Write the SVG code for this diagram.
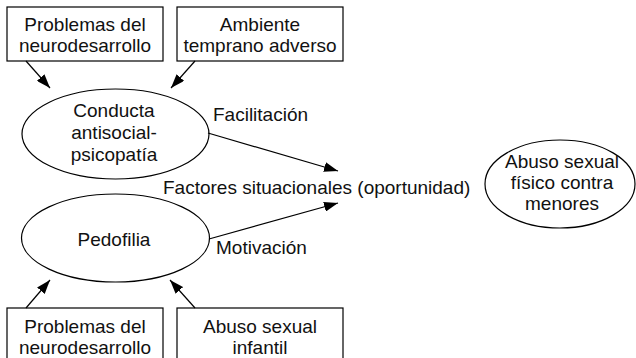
<svg xmlns="http://www.w3.org/2000/svg" width="636" height="358" viewBox="0 0 636 358">
<style>
  rect, ellipse { fill: #fff; stroke: #000; stroke-width: 1.2; }
  text { font-family: "Liberation Sans", Arial, sans-serif; font-size: 19px; fill: #111; text-anchor: middle; }
  .lbl { text-anchor: start; }
  .conn line { stroke: #000; stroke-width: 1.2; marker-end: url(#ah); }
</style>
<defs>
  <marker id="ah" viewBox="0 0 14 10" refX="14" refY="5" markerWidth="14" markerHeight="10" markerUnits="userSpaceOnUse" orient="auto">
    <path d="M0,0 L14,5 L0,10 z" fill="#000"/>
  </marker>
</defs>
<g id="box-neuro-top">
  <rect x="7" y="7" width="156" height="54"/>
  <text x="85" y="31">Problemas del</text>
  <text x="85" y="52">neurodesarrollo</text>
</g>
<g id="box-ambiente">
  <rect x="177" y="7" width="166" height="54"/>
  <text x="260" y="31">Ambiente</text>
  <text x="260" y="52">temprano adverso</text>
</g>
<g id="ell-conducta">
  <ellipse cx="115.5" cy="134" rx="93.5" ry="45"/>
  <text x="114" y="117">Conducta</text>
  <text x="114" y="139">antisocial-</text>
  <text x="114" y="161">psicopatía</text>
</g>
<g id="ell-pedofilia">
  <ellipse cx="115.5" cy="238" rx="94" ry="44"/>
  <text x="114" y="246">Pedofilia</text>
</g>
<g id="ell-abuso">
  <ellipse cx="560" cy="184" rx="75" ry="44"/>
  <text x="562" y="168">Abuso sexual</text>
  <text x="562" y="189">físico contra</text>
  <text x="562" y="210">menores</text>
</g>
<g id="box-neuro-bottom">
  <rect x="7" y="308" width="156" height="54"/>
  <text x="85" y="333">Problemas del</text>
  <text x="85" y="354">neurodesarrollo</text>
</g>
<g id="box-abuso-infantil">
  <rect x="177" y="308" width="166" height="54"/>
  <text x="260" y="333">Abuso sexual</text>
  <text x="260" y="354">infantil</text>
</g>
<g id="labels">
  <text class="lbl" x="213" y="121">Facilitación</text>
  <text class="lbl" x="163" y="194">Factores situacionales (oportunidad)</text>
  <text class="lbl" x="216" y="254">Motivación</text>
</g>
<g id="connectors" class="conn">
  <line x1="26" y1="61" x2="50" y2="88"/>
  <line x1="195" y1="61" x2="171" y2="88"/>
  <line x1="208" y1="133" x2="338" y2="171"/>
  <line x1="209" y1="239" x2="338" y2="203"/>
  <line x1="26" y1="308" x2="50" y2="280"/>
  <line x1="195" y1="308" x2="170" y2="280"/>
</g>
</svg>
